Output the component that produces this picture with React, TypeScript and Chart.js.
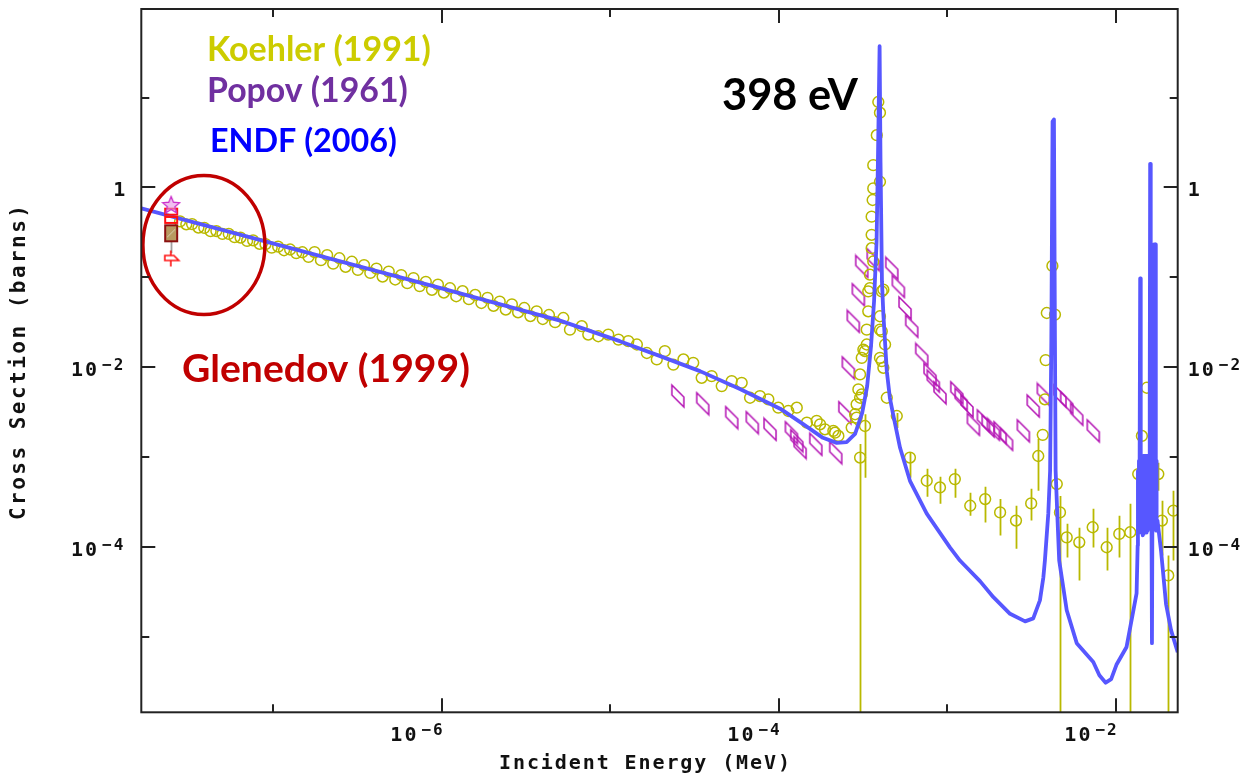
import { useEffect, useRef } from "react";
import { Chart, registerables } from "chart.js";

Chart.register(...registerables);

// Axis ranges: incident energy (MeV) and cross section (barns)
const X_MIN = 1.649e-8;
const X_MAX = 2.333e-2;
const Y_MIN = 1.452e-6;
const Y_MAX = 96.5;

const xDecades = [-7, -6, -5, -4, -3, -2];
const xLabelled = [-6, -4, -2];
const yDecades = [1, 0, -1, -2, -3, -4, -5];
const yLabelled = [0, -2, -4];

// ENDF (2006) evaluated cross section
const endfE = [
  1.649e-8, 1.0e-6, 5.04e-6, 1.14e-5, 1.98e-5, 3.41e-5, 5.89e-5, 1.02e-4, 1.39e-4, 1.83e-4,
  2.21e-4, 2.53e-4, 2.84e-4, 3.13e-4, 3.35e-4, 3.53e-4, 3.68e-4, 3.81e-4, 3.88e-4, 3.97e-4,
  4.02e-4, 4.1e-4, 4.18e-4, 4.38e-4, 4.57e-4, 4.77e-4, 5.25e-4, 6.01e-4, 7.56e-4, 1.04e-3,
  1.19e-3, 1.57e-3, 1.88e-3, 2.36e-3, 2.9e-3, 3.24e-3, 3.55e-3, 3.72e-3, 3.8e-3, 3.98e-3,
  4.08e-3, 4.15e-3, 4.22e-3, 4.3e-3, 4.36e-3, 4.4e-3, 4.5e-3, 4.62e-3, 5.12e-3, 5.87e-3,
  7.36e-3, 8.0e-3, 8.72e-3, 9.4e-3, 1.01e-2, 1.16e-2, 1.33e-2,
  1.35e-2, 1.355e-2, 1.364e-2, 1.374e-2, 1.383e-2, 1.397e-2, 1.408e-2, 1.418e-2, 1.427e-2, 1.437e-2,
  1.446e-2, 1.456e-2, 1.465e-2, 1.475e-2, 1.485e-2, 1.495e-2, 1.505e-2, 1.515e-2, 1.526e-2, 1.536e-2,
  1.546e-2, 1.557e-2, 1.568e-2, 1.578e-2, 1.592e-2, 1.601e-2, 1.614e-2, 1.627e-2, 1.641e-2, 1.655e-2,
  1.67e-2, 1.687e-2, 1.722e-2, 1.73e-2, 1.738e-2, 1.745e-2, 1.752e-2, 1.769e-2, 1.86e-2, 1.99e-2,
  2.13e-2, 2.333e-2,
];
const endfSigma = [
  0.585, 0.0755, 0.033, 0.0195, 0.0133, 0.00905, 0.00572, 0.00346, 0.00234, 0.00164,
  0.00144, 0.00147, 0.00181, 0.0031, 0.00617, 0.0171, 0.0541, 0.25, 1.93, 37.2,
  1.93, 0.0901, 0.0388, 0.00905, 0.00454, 0.00302, 0.00127, 5.46e-4, 2.35e-4, 9.87e-5,
  7.08e-5, 4.15e-5, 2.77e-5, 1.81e-5, 1.49e-5, 1.61e-5, 2.55e-5, 4.59e-5, 7.08e-5, 2.35e-4,
  7.05e-4, 0.02, 5.4, 5.7, 0.02, 7.05e-4, 2.35e-4, 7.08e-5, 1.98e-5, 8.53e-6,
  5.27e-6, 3.75e-6, 3.1e-6, 3.4e-6, 4.9e-6, 7.74e-6, 3.05e-5,
  1.04e-4, 7.05e-4, 1.52e-4, 9.1e-4, 1.45e-4, 0.0972, 1.97e-4, 8.7e-4, 1.45e-4, 9.5e-4,
  1.35e-4, 1.03e-3, 1.4e-4, 9.5e-4, 1.52e-4, 1.03e-3, 1.6e-4, 9.5e-4, 1.45e-4, 1.03e-3,
  1.52e-4, 9.1e-4, 1.6e-4, 9.5e-4, 4.21e-3, 1.83, 0.0541, 7.05e-4, 8.53e-6, 7.05e-4,
  0.0541, 0.232, 0.232, 7.05e-4, 1.52e-4, 9.1e-4, 1.52e-4, 1.97e-4, 8.91e-5, 2.31e-5,
  1.19e-5, 6.76e-6,
];

// Koehler (1991): low-energy points
const koehlerLowE = [
  2.8e-8, 3.05e-8, 3.3e-8, 3.6e-8, 3.9e-8, 4.25e-8, 4.6e-8, 5.0e-8, 5.45e-8, 5.9e-8,
  6.4e-8, 7.0e-8, 7.6e-8, 8.3e-8, 9.0e-8, 9.8e-8, 1.07e-7, 1.16e-7, 1.26e-7, 1.37e-7,
  1.49e-7, 1.62e-7, 1.76e-7, 1.92e-7, 2.09e-7, 2.27e-7, 2.47e-7, 2.69e-7, 2.93e-7, 3.18e-7,
  3.46e-7, 3.77e-7, 4.1e-7, 4.46e-7, 4.85e-7, 5.3e-7, 5.75e-7, 6.25e-7, 6.8e-7, 7.4e-7,
  8.05e-7, 8.75e-7, 9.5e-7, 1.03e-6, 1.12e-6, 1.22e-6, 1.33e-6, 1.45e-6, 1.58e-6, 1.72e-6,
  1.87e-6, 2.03e-6, 2.21e-6, 2.4e-6, 2.61e-6, 2.84e-6, 3.09e-6, 3.36e-6, 3.66e-6, 3.98e-6,
  4.33e-6, 4.71e-6,
];
const koehlerLowSigma = [
  0.419, 0.389, 0.391, 0.358, 0.355, 0.326, 0.327, 0.304, 0.304, 0.28,
  0.277, 0.254, 0.258, 0.236, 0.234, 0.214, 0.219, 0.2, 0.204, 0.186,
  0.19, 0.169, 0.191, 0.155, 0.177, 0.142, 0.163, 0.131, 0.149, 0.121,
  0.137, 0.112, 0.125, 0.102, 0.116, 0.0946, 0.106, 0.086, 0.098, 0.0799,
  0.0891, 0.0726, 0.0829, 0.0677, 0.0756, 0.0616, 0.0701, 0.0571, 0.0637, 0.0518,
  0.0591, 0.0482, 0.0538, 0.0438, 0.05, 0.0408, 0.0456, 0.0371, 0.0419, 0.0344,
  0.0381, 0.0317,
];

// Koehler (1991): resonance region
const koehlerResE = [
  5.27e-6, 5.77e-6, 6.78e-6, 7.41e-6, 8.5e-6, 9.74e-6, 1.12e-5, 1.28e-5, 1.44e-5, 1.65e-5,
  1.89e-5, 2.11e-5, 2.37e-5, 2.72e-5, 3.11e-5, 3.49e-5, 4.0e-5, 4.59e-5, 5.26e-5, 6.03e-5,
  6.76e-5, 7.74e-5, 8.68e-5, 9.95e-5, 1.14e-4, 1.28e-4, 1.47e-4, 1.68e-4, 1.76e-4, 1.88e-4,
  2.11e-4, 2.16e-4, 2.26e-4, 2.71e-4, 2.84e-4, 2.9e-4, 2.9e-4, 2.97e-4, 3.04e-4, 3.04e-4,
  3.04e-4, 3.11e-4, 3.11e-4, 3.18e-4, 3.25e-4, 3.25e-4, 3.33e-4, 3.33e-4, 3.4e-4, 3.4e-4,
  3.48e-4, 3.48e-4, 3.56e-4, 3.56e-4, 3.56e-4, 3.61e-4, 3.64e-4, 3.64e-4, 3.64e-4, 3.82e-4,
  3.9e-4, 3.99e-4, 3.99e-4, 3.99e-4, 3.99e-4, 3.99e-4, 4.09e-4, 4.09e-4, 4.09e-4, 4.18e-4,
  4.18e-4, 4.28e-4, 4.38e-4, 5.02e-4, 6.01e-4, 7.56e-4, 9.06e-4, 1.11e-3, 1.37e-3, 1.68e-3,
  2.06e-3, 2.56e-3, 3.15e-3, 3.47e-3, 3.69e-3, 3.8e-3, 3.84e-3, 3.9e-3, 4.21e-3, 4.36e-3,
  4.47e-3, 4.67e-3, 5.12e-3, 6.08e-3, 7.3e-3, 8.84e-3, 1.05e-2, 1.22e-2, 1.36e-2, 1.43e-2,
  1.53e-2, 1.79e-2, 1.88e-2, 2.05e-2, 2.2e-2,
];
const koehlerResSigma = [
  0.0353, 0.0262, 0.0286, 0.0231, 0.0221, 0.0231, 0.0203, 0.0195, 0.0179, 0.0144,
  0.0122, 0.0151, 0.0107, 0.0122, 0.0112, 0.00763, 0.00797, 0.00617, 0.00701, 0.00671,
  0.00458, 0.00478, 0.0044, 0.00355, 0.00326, 0.00355, 0.00242, 0.00253, 0.00232, 0.00204,
  0.00196, 0.00187, 0.00172, 0.00213, 0.003, 0.00275, 0.00387, 0.00567, 0.00099, 0.00458,
  0.00832, 0.00499, 0.0127, 0.0157, 0.00222, 0.0151, 0.0179, 0.0262, 0.0419, 0.0698,
  0.107, 0.0759, 0.211, 0.297, 0.473, 0.725, 0.975, 0.15, 1.77, 3.81,
  8.91, 6.78, 1.157, 0.0369, 0.0262, 0.0127, 0.0698, 0.0251, 0.0117, 0.0729,
  0.00985, 0.0179, 0.00458, 0.00287, 0.00099, 0.000546, 0.00046, 0.00057, 0.000288, 0.000342,
  0.000243, 0.000197, 0.000306, 0.00103, 0.00177, 0.0044, 0.012, 0.0401, 0.134, 0.0385,
  0.000502, 0.000243, 0.000128, 0.000113, 0.000166, 0.0000995, 0.00014, 0.000146, 0.000648, 0.00172,
  0.00591, 0.000648, 0.000197, 0.0000483, 0.000254,
];

// Koehler (1991) uncertainty bars: lower / upper bound (0 = down to zero)
const koehlerBarE = [
  3.04e-4, 3.25e-4, 5.02e-4, 6.01e-4, 7.56e-4, 9.06e-4, 1.11e-3, 1.37e-3, 1.68e-3, 2.06e-3,
  2.56e-3, 3.15e-3, 3.47e-3, 4.67e-3, 5.12e-3, 6.08e-3, 7.3e-3, 8.84e-3, 1.05e-2, 1.22e-2,
  1.36e-2, 1.79e-2, 1.88e-2, 2.05e-2, 2.2e-2,
];
const koehlerBarLo = [
  0, 5.9e-4, 2.11e-3, 5.9e-4, 3.63e-4, 3.03e-4, 3.54e-4, 2.23e-4, 1.87e-4, 1.34e-4,
  9.6e-5, 1.97e-4, 4.23e-4, 0, 7.65e-5, 4.25e-5, 9.87e-5, 5.48e-5, 7.65e-5, 0,
  4.23e-4, 4.23e-4, 8.05e-5, 0, 7.08e-5,
];
const koehlerBarHi = [
  1.4e-3, 3.0e-3, 3.1e-3, 1.12e-3, 7.42e-4, 6.05e-4, 7.42e-4, 4.02e-4, 4.69e-4, 3.42e-4,
  2.88e-4, 4.45e-4, 1.6e-3, 3.7e-4, 1.82e-4, 1.64e-4, 2.67e-4, 1.64e-4, 2.23e-4, 3.03e-4,
  8.65e-4, 8.65e-4, 3.28e-4, 8.05e-5, 4.23e-4,
];

// Popov (1961)
const popovE = [
  2.52e-5, 3.54e-5, 5.26e-5, 6.97e-5, 8.88e-5, 1.19e-4, 1.28e-4, 1.34e-4, 1.66e-4, 2.18e-4,
  2.47e-4, 2.59e-4, 2.77e-4, 2.97e-4, 3.11e-4, 3.64e-4, 4.69e-4, 5.13e-4, 5.62e-4, 6.16e-4,
  7.06e-4, 7.91e-4, 8.27e-4, 9.06e-4, 1.14e-3, 1.21e-3, 1.31e-3, 1.43e-3, 1.64e-3, 1.75e-3,
  1.88e-3, 2.06e-3, 2.25e-3, 2.83e-3, 3.24e-3, 3.72e-3, 4.67e-3, 5.12e-3, 5.87e-3, 7.36e-3,
];
const popovSigma = [
  4.78e-3, 3.93e-3, 2.75e-3, 2.42e-3, 2.04e-3, 1.87e-3, 1.52e-3, 1.28e-3, 1.39e-3, 1.12e-3,
  3.12e-3, 9.85e-3, 0.0324, 0.0641, 0.132, 0.157, 0.126, 0.0793, 0.0456, 0.0286,
  0.0139, 8.32e-3, 7.01e-3, 5.2e-3, 5.2e-3, 4.4e-3, 3.71e-3, 2.32e-3, 2.53e-3, 2.22e-3,
  2.04e-3, 1.87e-3, 1.58e-3, 1.96e-3, 3.71e-3, 4.99e-3, 4.78e-3, 4.03e-3, 3.0e-3, 1.96e-3,
];
const popovThermalE = [2.48e-8];
const popovThermalSigma = [0.638];

// Glenedov (1999) thermal values
const glenedovE = [2.48e-8, 2.48e-8, 2.48e-8, 2.5e-8];
const glenedovSigma = [0.538, 0.435, 0.309, 0.162];
const glenedovBarLo = [0.185];
const glenedovBarHi = [0.309];

// Circled thermal region (centre)
const circleE = 3.88e-8;
const circleSigma = 0.229;

const pts = (xs: number[], ys: number[]) => xs.map((x, i) => ({ x, y: ys[i] }));

function marker(w: number, h: number, draw: (c: CanvasRenderingContext2D) => void) {
  const c = document.createElement("canvas");
  c.width = w;
  c.height = h;
  const ctx = c.getContext("2d")!;
  draw(ctx);
  return c;
}

const MONO = '"DejaVu Sans Mono", monospace';

function spaced(ctx: CanvasRenderingContext2D, text: string, x0: number, x1: number, base: number) {
  (ctx as any).letterSpacing = "0px";
  const w = ctx.measureText(text).width;
  const sp = (x1 - x0 - w) / (text.length - 1);
  (ctx as any).letterSpacing = `${sp}px`;
  ctx.fillText(text, x0, base);
  (ctx as any).letterSpacing = "0px";
}

function power(ctx: CanvasRenderingContext2D, exp: number, edge: number, base: number, align: "left" | "right") {
  const mainFont = `bold 20px ${MONO}`;
  const supFont = `bold 16px ${MONO}`;
  ctx.textAlign = "left";
  ctx.textBaseline = "alphabetic";
  if (exp === 0) {
    ctx.font = mainFont;
    (ctx as any).letterSpacing = "0px";
    const w = ctx.measureText("1").width;
    ctx.fillText("1", align === "right" ? edge - w : edge, base);
    return;
  }
  const sup = "\u2212" + Math.abs(exp);
  ctx.font = mainFont;
  (ctx as any).letterSpacing = "2px";
  const wMain = ctx.measureText("10").width;
  ctx.font = supFont;
  (ctx as any).letterSpacing = "2px";
  const wSup = ctx.measureText(sup).width;
  const gap = 3;
  const x0 = align === "right" ? edge - (wMain + gap + wSup) : edge;
  ctx.font = mainFont;
  (ctx as any).letterSpacing = "2px";
  ctx.fillText("10", x0, base);
  ctx.font = supFont;
  ctx.fillText(sup, x0 + wMain + gap, base - 6);
  (ctx as any).letterSpacing = "0px";
}

function fitted(ctx: CanvasRenderingContext2D, text: string, left: number, right: number, base: number, color: string) {
  const family = 'Lato, "Open Sans", sans-serif';
  ctx.font = `bold 100px ${family}`;
  const w = ctx.measureText(text).width;
  ctx.font = `bold ${(100 * (right - left)) / w}px ${family}`;
  ctx.fillStyle = color;
  ctx.textAlign = "left";
  ctx.textBaseline = "alphabetic";
  ctx.fillText(text, left, base);
}

const errorBars = {
  id: "errorBars",
  beforeDatasetsDraw(chart: any) {
    const { ctx, chartArea: a, scales } = chart;
    const xs = scales.x;
    const ys = scales.y;
    ctx.save();
    ctx.beginPath();
    ctx.rect(a.left, a.top, a.right - a.left, a.bottom - a.top);
    ctx.clip();
    const bars = (E: number[], lo: number[], hi: number[], color: string) => {
      ctx.strokeStyle = color;
      ctx.lineWidth = 1.8;
      E.forEach((e, i) => {
        const x = Math.round(xs.getPixelForValue(e)) + 0.5;
        const yTop = ys.getPixelForValue(hi[i]);
        const yBot = lo[i] > 0 ? ys.getPixelForValue(lo[i]) : a.bottom;
        ctx.beginPath();
        ctx.moveTo(x, yTop);
        ctx.lineTo(x, yBot);
        ctx.stroke();
      });
    };
    bars(koehlerBarE, koehlerBarLo, koehlerBarHi, "#b9b900");
    bars([glenedovE[2]], glenedovBarLo, glenedovBarHi, "#a0a0a0");
    ctx.restore();
  },
};

const frame = {
  id: "frame",
  afterDraw(chart: any) {
    const { ctx, chartArea: a, scales } = chart;
    const xs = scales.x;
    const ys = scales.y;
    ctx.save();

    // circled thermal region
    ctx.strokeStyle = "#c00000";
    ctx.lineWidth = 3.5;
    ctx.beginPath();
    ctx.ellipse(xs.getPixelForValue(circleE), ys.getPixelForValue(circleSigma), 61, 69.5, 0, 0, Math.PI * 2);
    ctx.stroke();

    // plot frame
    ctx.strokeStyle = "#222";
    ctx.lineWidth = 2;
    ctx.strokeRect(a.left, a.top, a.right - a.left, a.bottom - a.top);

    // inward ticks
    ctx.beginPath();
    xDecades.forEach((d) => {
      const x = Math.round(xs.getPixelForValue(Math.pow(10, d)));
      const len = xLabelled.includes(d) ? 14 : 8;
      ctx.moveTo(x, a.bottom);
      ctx.lineTo(x, a.bottom - len);
      ctx.moveTo(x, a.top);
      ctx.lineTo(x, a.top + len);
    });
    yDecades.forEach((d) => {
      const y = Math.round(ys.getPixelForValue(Math.pow(10, d)));
      const len = yLabelled.includes(d) ? 14 : 8;
      ctx.moveTo(a.left, y);
      ctx.lineTo(a.left + len, y);
      ctx.moveTo(a.right, y);
      ctx.lineTo(a.right - len, y);
    });
    ctx.stroke();

    // tick labels
    ctx.fillStyle = "#111";
    xLabelled.forEach((d) => {
      const x = xs.getPixelForValue(Math.pow(10, d));
      power(ctx, d, x + 3, a.bottom + 29, "right");
    });
    yLabelled.forEach((d) => {
      const y = ys.getPixelForValue(Math.pow(10, d));
      power(ctx, d, a.left - 16, y + 9, "right");
      power(ctx, d, a.right + 10, y + 9, "left");
    });

    // axis titles
    ctx.fillStyle = "#111";
    ctx.font = `bold 20px ${MONO}`;
    ctx.textAlign = "left";
    ctx.textBaseline = "alphabetic";
    spaced(ctx, "Incident Energy (MeV)", 499, 790, 769);
    ctx.save();
    ctx.translate(25, 520);
    ctx.rotate(-Math.PI / 2);
    ctx.font = `bold 21px ${MONO}`;
    spaced(ctx, "Cross Section (barns)", 0, 315, 0);
    ctx.restore();

    // data set notes
    fitted(ctx, "Koehler (1991)", 207, 431, 61, "#cccc00");
    fitted(ctx, "Popov (1961)", 207, 408, 102, "#7030a0");
    fitted(ctx, "ENDF (2006)", 210, 397, 151.5, "#0000ff");
    fitted(ctx, "Glenedov (1999)", 182, 470, 381.5, "#c00000");
    fitted(ctx, "398 eV", 722, 858, 110, "#000000");
    ctx.restore();
  },
};

export default function App() {
  const ref = useRef<HTMLCanvasElement>(null);

  useEffect(() => {
    const canvas = ref.current!;

    const rhomb = marker(16, 26, (c) => {
      c.strokeStyle = "#b414b4";
      c.lineWidth = 1.5;
      c.beginPath();
      c.moveTo(2, 2);
      c.lineTo(14, 14);
      c.lineTo(14, 24);
      c.lineTo(2, 12);
      c.closePath();
      c.stroke();
    });

    const star = marker(20, 20, (c) => {
      c.beginPath();
      for (let i = 0; i < 10; i++) {
        const r = i % 2 === 0 ? 9 : 4;
        const t = -Math.PI / 2 + (i * Math.PI) / 5;
        const px = 10 + r * Math.cos(t);
        const py = 10.5 + r * Math.sin(t);
        if (i === 0) c.moveTo(px, py);
        else c.lineTo(px, py);
      }
      c.closePath();
      c.fillStyle = "rgba(230,150,230,0.6)";
      c.fill();
      c.strokeStyle = "#cc33cc";
      c.lineWidth = 1.3;
      c.stroke();
    });

    const redBar = marker(16, 10, (c) => {
      c.strokeStyle = "#ff1010";
      c.lineWidth = 2;
      c.strokeRect(2, 2, 12, 6);
    });

    const brownBox = marker(16, 20, (c) => {
      c.fillStyle = "#b89a60";
      c.fillRect(2, 2, 12, 16);
      c.strokeStyle = "#8a1010";
      c.lineWidth = 2;
      c.strokeRect(2, 2, 12, 16);
      c.strokeStyle = "#d8d0b0";
      c.lineWidth = 1;
      c.beginPath();
      c.moveTo(4, 14);
      c.lineTo(12, 6);
      c.stroke();
    });

    const flag = marker(20, 20, (c) => {
      c.strokeStyle = "#ff1010";
      c.lineWidth = 1.6;
      c.beginPath();
      c.moveTo(3, 7);
      c.lineTo(12, 7);
      c.lineTo(17, 12);
      c.lineTo(3, 12);
      c.closePath();
      c.moveTo(9, 2);
      c.lineTo(9, 7);
      c.moveTo(9, 12);
      c.lineTo(9, 18);
      c.stroke();
    });

    const chart = new Chart(canvas, {
      type: "scatter",
      data: {
        datasets: [
          {
            label: "ENDF (2006)",
            data: pts(endfE, endfSigma),
            showLine: true,
            borderColor: "#5757ff",
            borderWidth: 3.8,
            borderJoinStyle: "round",
            pointRadius: 0,
            tension: 0,
            order: 1,
          } as any,
          {
            label: "Koehler (1991)",
            data: [...pts(koehlerLowE, koehlerLowSigma), ...pts(koehlerResE, koehlerResSigma)],
            pointStyle: "circle",
            pointRadius: 5.4,
            pointBorderWidth: 1.5,
            borderColor: "#b9b900",
            pointBorderColor: "#b9b900",
            backgroundColor: "rgba(0,0,0,0)",
            pointBackgroundColor: "rgba(0,0,0,0)",
            order: 2,
          } as any,
          {
            label: "Popov (1961)",
            data: pts(popovE, popovSigma),
            pointStyle: rhomb,
            pointRadius: 8,
            order: 3,
          } as any,
          {
            label: "Popov (1961) thermal",
            data: pts(popovThermalE, popovThermalSigma),
            pointStyle: star,
            pointRadius: 8,
            order: 0,
          } as any,
          {
            label: "Glenedov (1999)",
            data: pts(glenedovE, glenedovSigma),
            pointStyle: [redBar, redBar, brownBox, flag],
            pointRadius: 8,
            order: 0,
          } as any,
        ],
      },
      options: {
        animation: false,
        responsive: false,
        devicePixelRatio: 1,
        layout: { padding: { left: 141.3, right: 70.3, top: 6.7, bottom: 62.7 } },
        plugins: { legend: { display: false }, tooltip: { enabled: false } },
        events: [],
        scales: {
          x: { type: "logarithmic", min: X_MIN, max: X_MAX, display: false },
          y: { type: "logarithmic", min: Y_MIN, max: Y_MAX, display: false },
        },
      },
      plugins: [errorBars, frame],
    });

    return () => chart.destroy();
  }, []);

  return (
    <div style={{ position: "fixed", left: 0, top: 0, width: 1248, height: 775, background: "#fff" }}>
      <canvas ref={ref} width={1248} height={775} style={{ display: "block", width: 1248, height: 775 }} />
    </div>
  );
}
